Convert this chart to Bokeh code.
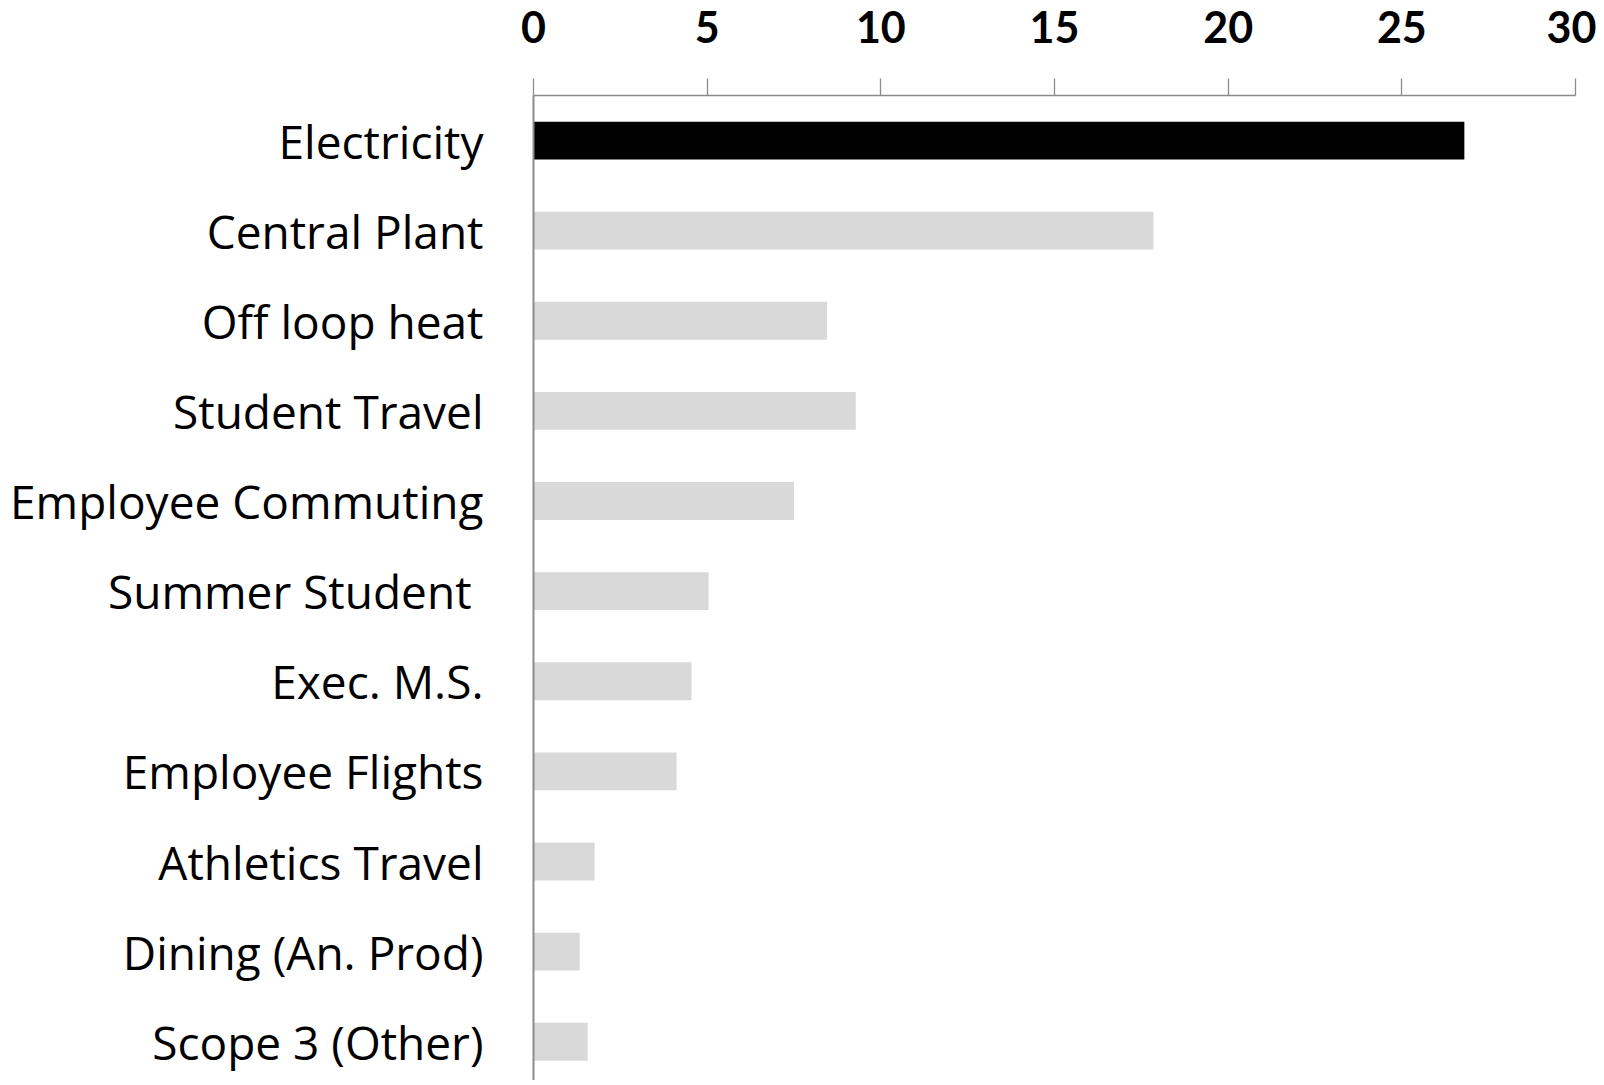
from bokeh.plotting import figure
from bokeh.models import Range1d, FixedTicker
from bokeh.embed import file_html
from bokeh.resources import INLINE

categories = ["Electricity", "Central Plant", "Off loop heat", "Student Travel",
              "Employee Commuting", "Summer Student ", "Exec. M.S.", "Employee Flights",
              "Athletics Travel", "Dining (An. Prod)", "Scope 3 (Other)"]
values = [26.8, 17.85, 8.45, 9.28, 7.5, 5.04, 4.55, 4.12, 1.76, 1.33, 1.56]
x_ticks = [0, 5, 10, 15, 20, 25, 30]

positions = list(range(len(categories)))
colors = ["#000000"] + ["#d9d9d9"] * (len(categories) - 1)

p = figure(width=1596, height=1080, output_backend="svg", toolbar_location=None,
           x_range=Range1d(0, 30), y_range=Range1d(10.43, -0.5),
           x_axis_location="above", min_border_left=533, min_border_right=21,
           min_border_top=95, min_border_bottom=0)
p.outline_line_color = None
p.xgrid.visible = False
p.ygrid.visible = False

p.hbar(y=positions, right=values, left=0, height=0.42, fill_color=colors, line_color=None)

xa = p.xaxis[0]
xa.ticker = FixedTicker(ticks=x_ticks)
xa.axis_line_color = "#8c8c8c"
xa.axis_line_width = 1.3
xa.major_tick_line_color = "#8c8c8c"
xa.major_tick_line_width = 1.3
xa.major_tick_out = 17
xa.major_tick_in = 0
xa.minor_tick_out = 0
xa.minor_tick_in = 0
xa.major_label_text_font = "Lato"
xa.major_label_text_font_style = "bold"
xa.major_label_text_font_size = "43px"
xa.major_label_text_color = "#000000"
xa.major_label_standoff = 36

ya = p.yaxis[0]
ya.ticker = FixedTicker(ticks=positions)
ya.major_label_overrides = {i: c for i, c in enumerate(categories)}
ya.axis_line_color = "#8c8c8c"
ya.axis_line_width = 2
ya.major_tick_out = 0
ya.major_tick_in = 0
ya.minor_tick_out = 0
ya.minor_tick_in = 0
ya.major_label_text_font = "Open Sans"
ya.major_label_text_font_size = "46px"
ya.major_label_text_color = "#000000"
ya.major_label_standoff = 50

open("out.html", "w").write(file_html(p, INLINE))
